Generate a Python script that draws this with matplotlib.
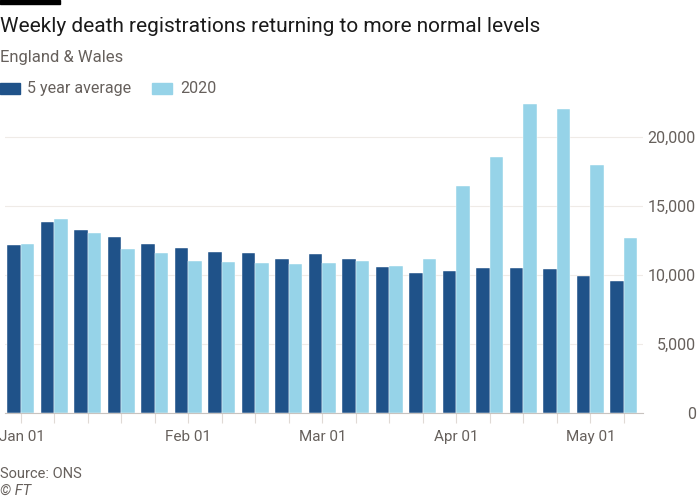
import matplotlib.pyplot as plt
import matplotlib.transforms as mtransforms
import numpy as np

plt.rcParams['font.family'] = ['Roboto', 'DejaVu Sans']

# Data
weeks = list(range(19))
avg_5yr = [12150, 13810, 13210, 12750, 12200, 11910, 11620, 11550, 11160, 11470,
           11160, 10560, 10120, 10290, 10510, 10460, 10440, 9910, 9540]
deaths_2020 = [12240, 14050, 12990, 11830, 11590, 10970, 10920, 10820, 10800, 10870,
               10990, 10630, 11110, 16390, 18520, 22350, 22000, 17950, 12660]
tick_pos = [0, 5, 9, 13, 17]
tick_labels = ['Jan 01', 'Feb 01', 'Mar 01', 'Apr 01', 'May 01']
y_ticks = [0, 5000, 10000, 15000, 20000]

dark = '#1f5289'
light = '#96d3e8'
grey_text = '#66605c'

fig = plt.figure(figsize=(7, 5), dpi=100)
ax = fig.add_axes([0.007, 0.174, 0.912, 0.622])

x = np.array(weeks)
w = 0.4
ax.bar(x - w / 2, avg_5yr, width=w, color=dark, edgecolor='white', linewidth=0.3)
ax.bar(x + w / 2, deaths_2020, width=w, color=light, edgecolor='white', linewidth=0.3)

ax.set_xlim(-0.47, 18.58)
ax.set_ylim(0, 22500)

# grid and axes
ax.set_yticks(y_ticks)
ax.set_yticklabels([f'{v:,}' for v in y_ticks])
ax.yaxis.tick_right()
ax.tick_params(axis='y', length=0, labelsize=11.5, labelcolor=grey_text, pad=0)
for lab in ax.get_yticklabels():
    lab.set_horizontalalignment('right')
    lab.set_x(1.082)
ax.grid(axis='y', color='#efebe7', linewidth=0.8)
ax.set_axisbelow(True)
for s in ['top', 'left', 'right']:
    ax.spines[s].set_visible(False)
ax.spines['bottom'].set_color('#c8c3bf')
ax.spines['bottom'].set_linewidth(0.8)

ax.set_xticks(weeks, minor=True)
ax.set_xticks(tick_pos)
ax.set_xticklabels(tick_labels)
ax.tick_params(axis='x', which='both', length=7, color='#e0dad5', width=0.8)
ax.tick_params(axis='x', which='major', labelsize=11, labelcolor=grey_text, pad=5)
first = ax.get_xticklabels()[0]
first.set_transform(first.get_transform() +
                    mtransforms.ScaledTranslation(1.5 / 100, 0, fig.dpi_scale_trans))

# header
fig.patches.append(plt.Rectangle((0, 0.992), 0.086, 0.008, transform=fig.transFigure,
                                 color='black'))
fig.text(0.0, 0.948, 'Weekly death registrations returning to more normal levels',
         fontsize=15, color='#1a1a1a', va='center')
fig.text(0.0, 0.885, 'England & Wales', fontsize=12, color=grey_text, va='center')

fig.patches.append(plt.Rectangle((0.0, 0.813), 0.029, 0.02, transform=fig.transFigure,
                                 color=dark))
fig.text(0.039, 0.823, '5 year average', fontsize=11.5, color=grey_text, va='center')
fig.patches.append(plt.Rectangle((0.217, 0.813), 0.029, 0.02, transform=fig.transFigure,
                                 color=light))
fig.text(0.257, 0.823, '2020', fontsize=11.5, color=grey_text, va='center')

# footer
fig.text(0.0, 0.052, 'Source: ONS', fontsize=10.5, color=grey_text, va='center')
fig.text(0.0, 0.018, '© FT', fontsize=10.5, color=grey_text, va='center', style='italic')

fig.savefig('out.png', dpi=100)
